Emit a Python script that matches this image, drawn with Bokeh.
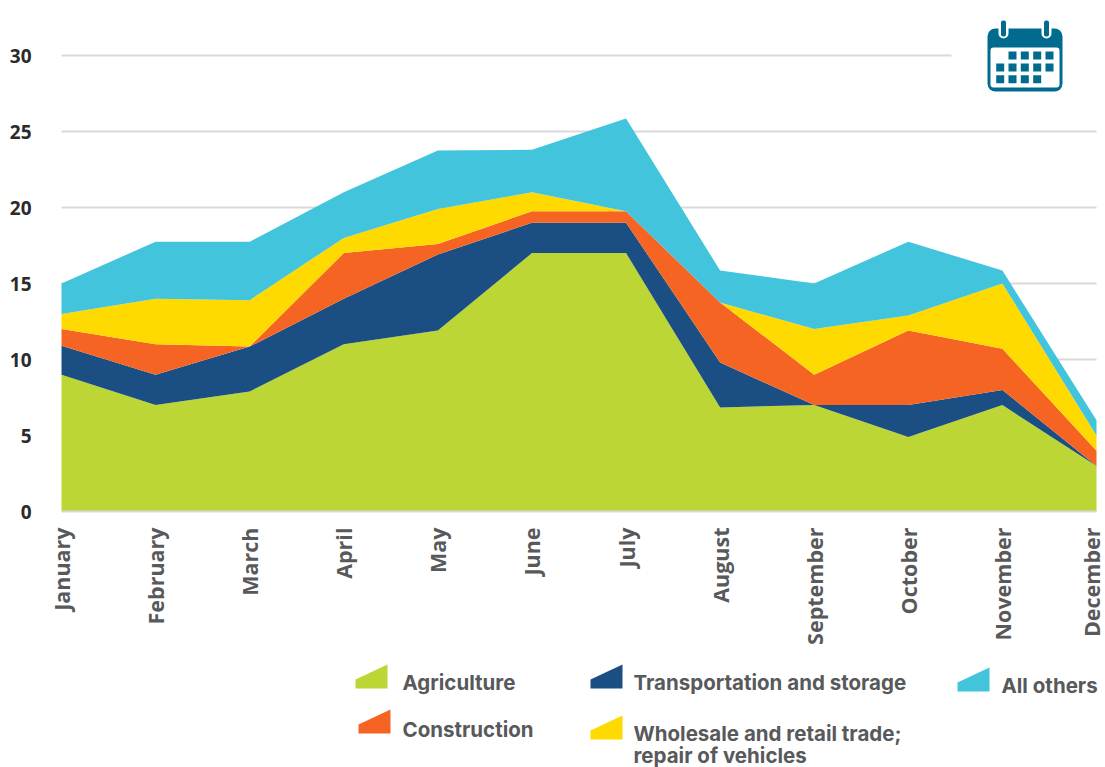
from math import pi
from bokeh.plotting import figure
from bokeh.models import FixedTicker, BoxAnnotation, PolyAnnotation, Label, ColumnDataSource, Range1d
from bokeh.embed import file_html
from bokeh.resources import INLINE

months = ["January","February","March","April","May","June","July","August","September","October","November","December"]
agriculture = [9, 7, 7.9, 11, 11.9, 17, 17, 6.85, 7, 4.9, 7, 3]
transport =   [1.9, 2, 2.95, 3, 5, 2, 2, 2.95, 0, 2.1, 1, 0]
construction =[1.1, 2, 0, 3, 0.7, 0.75, 0.75, 3.95, 2, 4.9, 2.7, 1]
wholesale =   [1, 3, 3.05, 1, 2.3, 1.25, 0, 0, 3, 1, 4.3, 1]
others =      [2, 3.75, 3.85, 3, 3.85, 2.8, 6.1, 2.1, 3, 4.85, 0.85, 1]
series_names = ["agriculture","transport","construction","wholesale","others"]
colors = ["#bcd635","#1b4f83","#f56423","#ffda00","#41c4dc"]
yticks = [0,5,10,15,20,25,30]

W, H = 1105, 767
STEP = (1097-62)/11
p = figure(width=W, height=H, output_backend="svg", toolbar_location=None,
           x_range=Range1d(-61/STEP, (W-61)/STEP), y_range=Range1d(-(H-511)/15.2, 511/15.2),
           min_border_left=0, min_border_right=0, min_border_top=0, min_border_bottom=0)
p.outline_line_color = None
p.background_fill_color = None
p.xgrid.visible = False
grid = p.ygrid[0]
grid.grid_line_color = "#d9d9d9"
grid.grid_line_width = 2
grid.ticker = FixedTicker(ticks=yticks[1:])
grid.cross_bounds = (0, 11)

src = ColumnDataSource(dict(x=list(range(12)), agriculture=agriculture, transport=transport,
                            construction=construction, wholesale=wholesale, others=others))
p.varea_stack(series_names, x="x", color=colors, source=src)

ya = p.yaxis[0]
ya.fixed_location = 0
ya.ticker = FixedTicker(ticks=yticks)
ya.axis_line_color = None
ya.major_tick_line_color = None
ya.minor_tick_line_color = None
ya.major_tick_out = 0
ya.major_label_text_font = "Open Sans"
ya.major_label_text_font_style = "bold"
ya.major_label_text_font_size = "19px"
ya.major_label_text_color = "#2b2b2b"
ya.major_label_standoff = 30

xa = p.xaxis[0]
xa.fixed_location = 0
xa.bounds = (0, 11)
xa.ticker = FixedTicker(ticks=list(range(12)))
xa.major_label_overrides = {i: m for i, m in enumerate(months)}
xa.major_label_orientation = pi/2
xa.axis_line_color = "#d9d9d9"
xa.axis_line_width = 2
xa.major_tick_line_color = None
xa.minor_tick_line_color = None
xa.major_tick_out = 0
xa.major_label_text_font = "Open Sans"
xa.major_label_text_font_style = "bold"
xa.major_label_text_font_size = "21.5px"
xa.major_label_text_color = "#58595b"
xa.major_label_standoff = 16

# reference page pixels -> frame-relative screen units
def sx(X): return X - 1
def sy(Y): return H - Y

def box(l, t, r, b, color, radius=0):
    p.add_layout(BoxAnnotation(left=sx(l), right=sx(r), top=sy(t), bottom=sy(b),
                               left_units="screen", right_units="screen", top_units="screen", bottom_units="screen",
                               fill_color=color, fill_alpha=1, line_color=None, line_alpha=0,
                               border_radius=radius, editable=False))

# calendar icon
TEAL = "#006b8f"
box(952, 45, 1100, 65, "white")
box(988, 28, 1063, 91, TEAL, 8)
box(991, 47, 1060, 87, "white", 3)
for cx in (1004, 1047):
    box(cx-5, 19, cx+5, 38, "white", 5)
    box(cx-2.5, 20, cx+2.5, 36, TEAL, 2)
cols = [1000.7, 1013, 1025.3, 1037.7, 1050]
for rowy, use in ((55, cols[1:]), (67, cols), (78.7, cols[:4])):
    for cx in use:
        box(cx-4, rowy-4, cx+4, rowy+4, TEAL)

# legend
def swatch(l, top, color):
    xs = [sx(v) for v in (l, l+32, l+32, l)]
    ys = [sy(v) for v in (top+15, top, top+24, top+24)]
    p.add_layout(PolyAnnotation(xs=xs, ys=ys, xs_units="screen", ys_units="screen",
                                fill_color=color, fill_alpha=1, line_color=None, line_alpha=0, editable=False))
def label(x, mid, text):
    p.add_layout(Label(x=sx(x), y=sy(mid), x_units="screen", y_units="screen", text=text,
                       text_font="Inter", text_font_style="bold", text_font_size="20.5px",
                       text_color="#58595b", text_baseline="alphabetic"))

swatch(356, 664, colors[0]); label(403, 682, "Agriculture")
swatch(359, 709, colors[2]); label(403, 729, "Construction")
swatch(591, 664, colors[1]); label(634, 682, "Transportation and storage")
swatch(591, 715, colors[3]); label(634, 733, "Wholesale and retail trade;"); label(634, 755, "repair of vehicles")
swatch(958, 667, colors[4]); label(1002, 685, "All others")

open("out.html", "w").write(file_html(p, INLINE))
